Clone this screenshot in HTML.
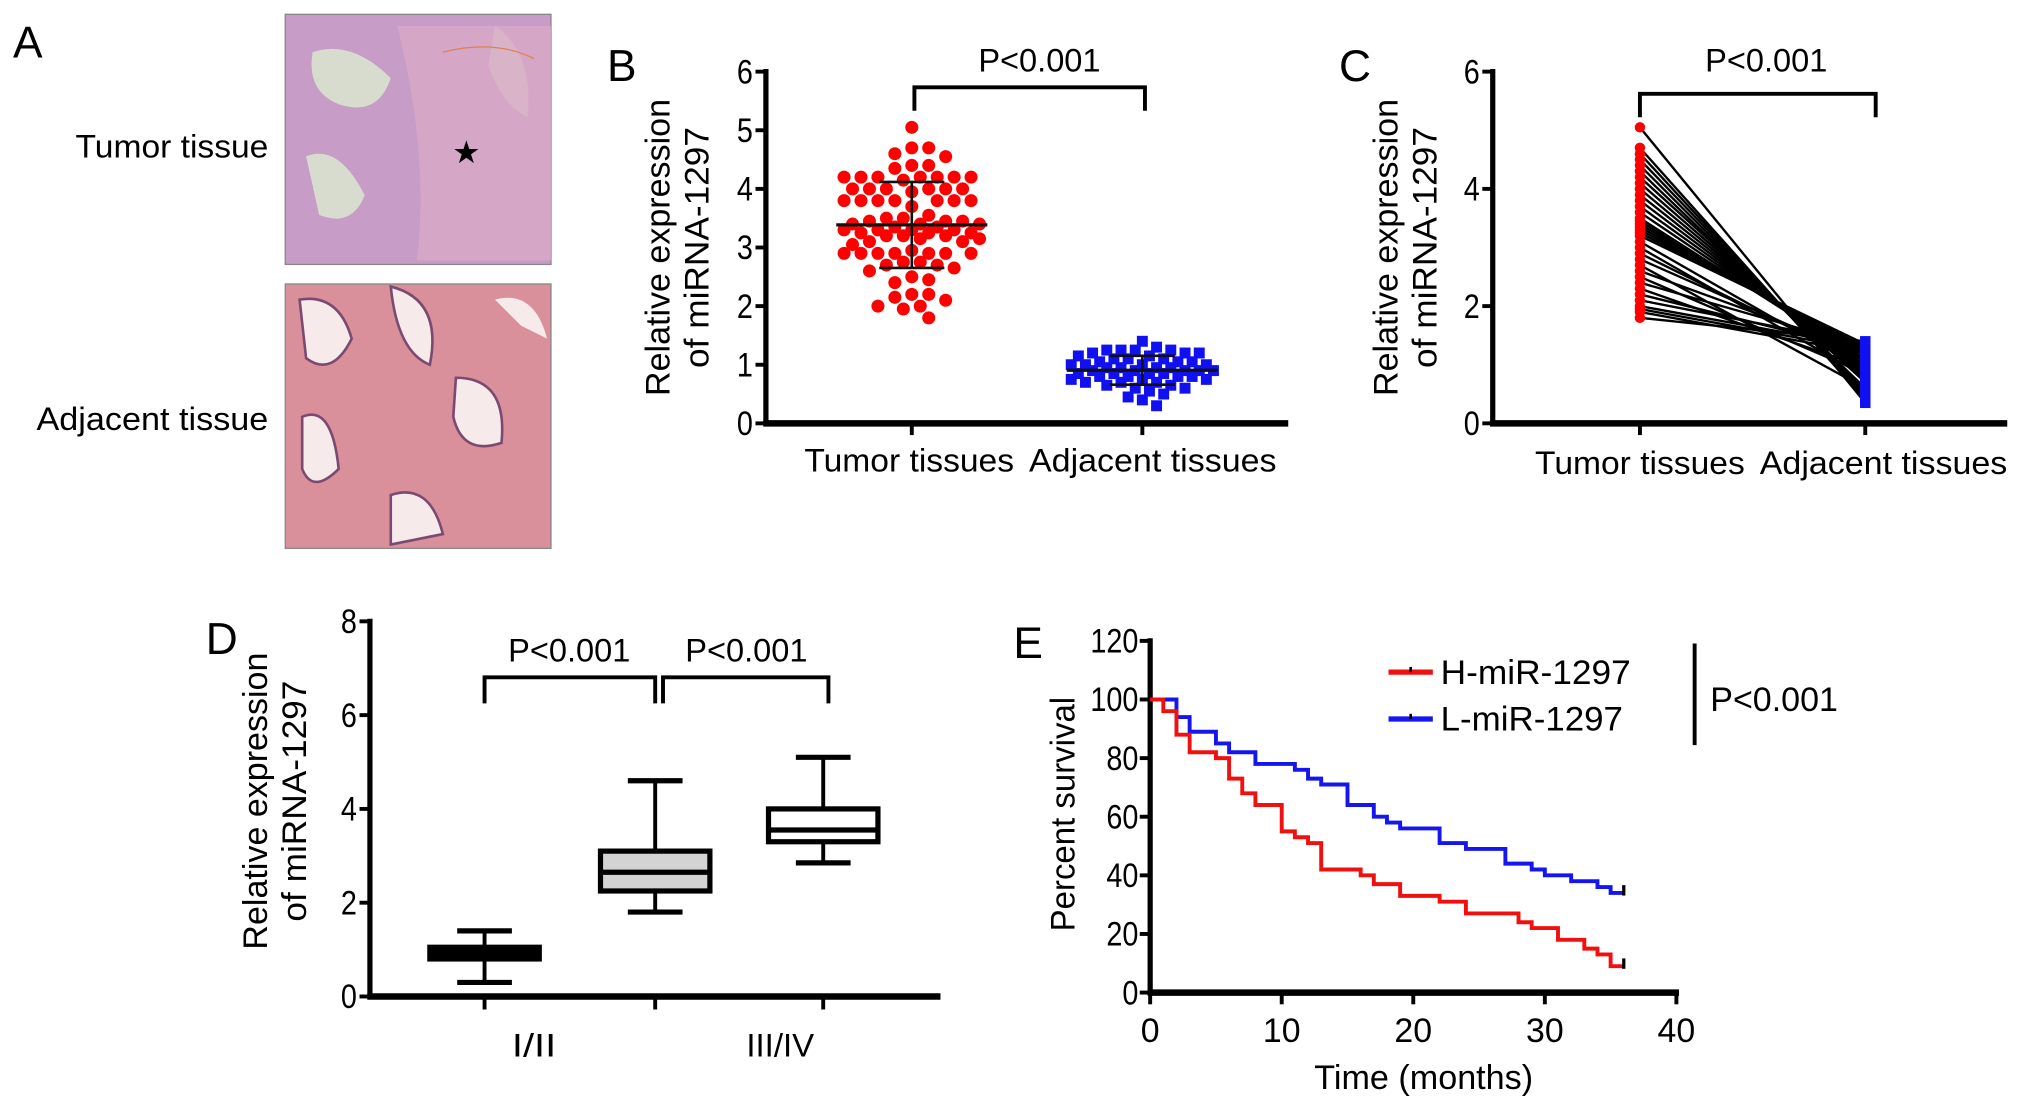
<!DOCTYPE html>
<html><head><meta charset="utf-8"><style>
html,body{margin:0;padding:0;background:#fff;}
svg{display:block;font-family:"Liberation Sans",Arial,sans-serif;}
</style></head><body>
<svg id="fig" width="2032" height="1102" viewBox="0 0 1560 846" preserveAspectRatio="none" xmlns="http://www.w3.org/2000/svg">
<rect width="1560" height="846" fill="#fff"/>
<g>
<text x="10" y="44" font-size="34">A</text>
<text x="206" y="121" font-size="25" text-anchor="end" textLength="148" lengthAdjust="spacingAndGlyphs">Tumor tissue</text>
<text x="206" y="330" font-size="25" text-anchor="end" textLength="178" lengthAdjust="spacingAndGlyphs">Adjacent tissue</text>
<g>
<rect x="219" y="11" width="204" height="192" fill="#c79cc7" stroke="#888"/>
<path d="M240 40 Q270 30 300 60 Q290 90 260 80 Q235 70 240 40Z" fill="#d8dccf"/>
<path d="M380 20 Q410 40 405 90 Q385 80 375 50Z" fill="#d8dccf"/>
<path d="M235 120 Q260 110 280 150 Q270 175 245 165Z" fill="#d8dccf"/>
<path d="M305 20 Q330 120 320 200 L423 200 L423 20Z" fill="#d9a9c6" opacity="0.8"/>
<path d="M340 40 Q380 30 410 45" stroke="#e08050" fill="none" stroke-width="1"/>
<text x="358" y="125" font-size="24" text-anchor="middle">★</text>
</g>
<g>
<rect x="219" y="218" width="204" height="203" fill="#d9909a" stroke="#888"/>
<path d="M230 230 Q260 225 270 260 Q255 290 235 275Z" fill="#f6eaea" stroke="#7a4a70" stroke-width="2"/>
<path d="M300 220 Q340 230 330 280 Q305 270 300 220Z" fill="#f6eaea" stroke="#7a4a70" stroke-width="2"/>
<path d="M350 290 Q390 290 385 340 Q355 350 348 320Z" fill="#f6eaea" stroke="#7a4a70" stroke-width="2"/>
<path d="M232 320 Q255 310 260 360 Q240 380 232 360Z" fill="#f6eaea" stroke="#7a4a70" stroke-width="2"/>
<path d="M380 230 Q410 222 420 260 L400 250Z" fill="#f6eaea"/>
<path d="M300 380 Q330 370 340 410 L300 418Z" fill="#f6eaea" stroke="#7a4a70" stroke-width="2"/>
</g>
</g>
<g id="pB"></g>
<g id="pC"></g>
<g id="pD"></g>
<g id="pE"></g>
</svg>
<script>
// ---- Panel B data ----
const bCategories = ["Tumor tissues","Adjacent tissues"];
const bTicks = [0,1,2,3,4,5,6];
const tumorB = [5.05,4.7,4.7,4.6,4.55,4.4,4.4,4.35,4.2,4.2,4.2,4.2,4.2,4.2,4.2,4.15,4.0,4.0,4.0,4.0,4.0,4.0,3.95,3.8,3.8,3.8,3.8,3.8,3.8,3.8,3.7,3.55,3.5,3.5,3.45,3.45,3.45,3.4,3.4,3.4,3.35,3.35,3.3,3.3,3.3,3.3,3.25,3.25,3.25,3.2,3.2,3.2,3.15,3.15,3.1,3.1,3.05,2.95,2.9,2.9,2.9,2.9,2.9,2.9,2.9,2.75,2.75,2.7,2.7,2.65,2.6,2.5,2.45,2.4,2.2,2.2,2.15,2.1,2.0,2.0,1.95,1.8];
const adjB = [1.4,1.3,1.25,1.25,1.25,1.25,1.2,1.2,1.2,1.15,1.15,1.1,1.1,1.1,1.05,1.05,1.05,1.0,1.0,1.0,1.0,0.95,0.95,0.95,0.95,0.9,0.9,0.9,0.9,0.9,0.85,0.85,0.85,0.85,0.8,0.8,0.8,0.8,0.75,0.75,0.75,0.7,0.7,0.7,0.65,0.65,0.6,0.6,0.55,0.5,0.45,0.4,0.3];
// ---- Panel C data ----
const cCategories = ["Tumor tissues","Adjacent tissues"];
const cTicks = [0,2,4,6];
const tumorC = [5.05,4.7,4.6,4.5,4.4,4.3,4.2,4.1,4.0,3.9,3.8,3.7,3.6,3.5,3.45,3.4,3.35,3.3,3.25,3.2,3.1,3.0,2.9,2.8,2.7,2.6,2.5,2.4,2.3,2.2,2.1,2.0,1.95,1.9,1.8];
const adjC = [0.35,0.4,0.45,0.5,0.55,0.6,0.7,0.75,0.8,0.85,0.9,0.95,1.0,1.05,1.1,1.15,1.2,1.25,1.3,1.35,0.9,0.8,1.0,1.1,0.6,1.2,0.85,1.3,0.95,1.25,1.35,1.3,1.25,1.2,1.4];
// ---- Panel D data ----
const dCategories = ["I/II","","III/IV"];
const dTicks = [0,2,4,6,8];
const dMin = [0.3,1.8,2.85];
const dQ1 = [0.8,2.25,3.3];
const dMed = [0.92,2.65,3.55];
const dQ3 = [1.05,3.1,4.0];
const dMax = [1.4,4.6,5.1];
const dFill = ["#000","#d3d3d3","#fff"];
// ---- Panel E data ----
const eTicksX = [0,10,20,30,40];
const eTicksY = [0,20,40,60,80,100,120];
const redT = [0,1,2,3,5,6,7,8,10,11,12,13,16,17,19,22,24,28,29,31,33,34,35,36];
const redS = [100,96,88,82,80,73,68,64,55,53,51,42,40,37,33,31,27,24,22,18,15,13,9,9];
const blueT = [0,2,3,5,6,8,11,12,13,15,17,18,19,22,24,27,29,30,32,34,35,36];
const blueS = [100,94,89,85,82,78,76,73,71,64,60,58,56,51,49,44,42,40,38,36,34,34];

const NS="http://www.w3.org/2000/svg";
function mk(parent,tag,attrs,txt){const e=document.createElementNS(NS,tag);for(const k in attrs)e.setAttribute(k,attrs[k]);if(txt!==undefined)e.textContent=txt;parent.appendChild(e);return e;}
function line(p,x1,y1,x2,y2,w,c){return mk(p,'line',{x1,y1,x2,y2,stroke:c||'#000','stroke-width':w||3});}
function ytitle(g,cx,cy,lines,name){lines.forEach((s,i)=>{
 const t=mk(g,'text',{transform:`translate(${cx+i*30},${cy}) rotate(-90)`,'font-size':26,'text-anchor':'middle',textLength:(i?185:228),lengthAdjust:'spacingAndGlyphs'},s);
 });}
function ytick(g,x,y,s,name){const tt=mk(g,'text',{x:x,y:y+9,'font-size':26,'text-anchor':'end',transform:`translate(${x*0.15},0) scale(0.85,1)`},s);
 tt.setAttribute('x',x/0.85-x*0.15/0.85);
 return tt;}

// ================= Panel B =================
(function(){
const g=document.getElementById('pB');
const X0=588,Y0=325,PU=45,XEND=989;
const y=v=>Y0-v*PU;
const xc=[700,877];
let t=mk(g,'text',{x:466,y:62,'font-size':34},'B');

line(g,X0,y(6)-2,X0,Y0+2,4);
line(g,X0-2,Y0,XEND,Y0,5);
bTicks.forEach(v=>{line(g,X0-8,y(v),X0,y(v),3);ytick(g,X0-10,y(v),String(v),'y-tick-label-b');});
bCategories.forEach((c,i)=>{line(g,xc[i],Y0,xc[i],Y0+9,3);
 const tt=mk(g,'text',{x:xc[i]+(i?8:-2),y:362,'font-size':25,'text-anchor':'middle',textLength:(i?190:161),lengthAdjust:'spacingAndGlyphs'},c);
 });
ytitle(g,514,190,['Relative expression','of miRNA-1297'],'y-axis-title-b');
const br=mk(g,'path',{d:`M${xc[0]+2} 85 V67 H${xc[1]+2} V85`,fill:'none',stroke:'#000','stroke-width':3});

const pt=mk(g,'text',{x:798,y:55,'font-size':25,'text-anchor':'middle'},'P<0.001');

function swarm(vals,cx,r,maxw){const placed=[];
 vals.forEach(v=>{const py=y(v);let best=null,bestOv=1e9;
  for(let k=0;k<60;k++){const off=(k%2?1:-1)*Math.ceil(k/2)*r*1.3;if(Math.abs(off)>maxw)break;const px=cx+off;
   const ov=placed.reduce((s,p)=>{const d=Math.hypot(p[0]-px,p[1]-py);return s+(d<r*1.9?(r*1.9-d):0);},0);
   if(ov===0){best=px;break;} if(ov<bestOv){bestOv=ov;best=px;}}
  placed.push([best,py]);});return placed;}
const mean=a=>a.reduce((s,v)=>s+v,0)/a.length;
const sd=a=>{const m=mean(a);return Math.sqrt(a.reduce((s,v)=>s+(v-m)*(v-m),0)/(a.length-1));};
swarm(tumorB,xc[0],5,55).forEach(p=>{const c=mk(g,'circle',{cx:p[0],cy:p[1],r:5,fill:'#f00'});
 });
swarm(adjB,xc[1],4.2,55).forEach(p=>{const c=mk(g,'rect',{x:p[0]-4.2,y:p[1]-4.2,width:8.4,height:8.4,fill:'#1010f0'});
 });
[[tumorB,xc[0]],[adjB,xc[1]]].forEach(([a,cx])=>{const m=mean(a),s=sd(a);
 const ml=line(g,cx-58,y(m),cx+58,y(m),2.5,'#111');
 line(g,cx,y(m-s),cx,y(m+s),2,'#111');line(g,cx-25,y(m-s),cx+25,y(m-s),2,'#111');line(g,cx-25,y(m+s),cx+25,y(m+s),2,'#111');});
})();

// ================= Panel C =================
(function(){
const g=document.getElementById('pC');
const X0=1146,Y0=325,XEND=1541;const PU=(325-55)/6;
const y=v=>Y0-v*PU;const xc=[1259,1432];
let t=mk(g,'text',{x:1028,y:62,'font-size':34},'C');
line(g,X0,y(6)-2,X0,Y0+2,4);line(g,X0-2,Y0,XEND,Y0,5);
cTicks.forEach(v=>{line(g,X0-8,y(v),X0,y(v),3);ytick(g,X0-10,y(v),String(v),'y-tick-label-c');});
cCategories.forEach((c,i)=>{line(g,xc[i],Y0,xc[i],Y0+9,3);
 const tt=mk(g,'text',{x:xc[i]+(i?14:0),y:364,'font-size':25,'text-anchor':'middle',textLength:(i?190:161),lengthAdjust:'spacingAndGlyphs'},c);
 });
ytitle(g,1073,190,['Relative expression','of miRNA-1297'],'y-axis-title-c');
const br=mk(g,'path',{d:`M${xc[0]} 90 V72 H${xc[1]+8} V90`,fill:'none',stroke:'#000','stroke-width':3});

const pt=mk(g,'text',{x:1356,y:55,'font-size':25,'text-anchor':'middle'},'P<0.001');

tumorC.forEach((v,i)=>{const l=line(g,xc[0],y(v),xc[1],y(adjC[i]),1.8,'#000');
 });
tumorC.forEach(v=>{const c=mk(g,'circle',{cx:xc[0],cy:y(v),r:4,fill:'#f00'});
 });
adjC.forEach(v=>{const c=mk(g,'rect',{x:xc[1]-4,y:y(v)-4,width:8,height:8,fill:'#1010f0'});
 });
})();

// ================= Panel D =================
(function(){
const g=document.getElementById('pD');
const X0=284,Y0=765,XEND=722;const PU=(765-477)/8;
const y=v=>Y0-v*PU;const xc=[372,503,632];const bw=84,cw=42;
let t=mk(g,'text',{x:158,y:502,'font-size':34},'D');
line(g,X0,y(8)-2,X0,Y0+2,4);line(g,X0-2,Y0,XEND,Y0,5);
dTicks.forEach(v=>{line(g,X0-8,y(v),X0,y(v),3);ytick(g,X0-10,y(v),String(v),'y-tick-label-d');});
xc.forEach(x=>line(g,x,Y0,x,Y0+10,3));
const l1=mk(g,'text',{x:410,y:811,'font-size':25,'text-anchor':'middle',textLength:34,lengthAdjust:'spacingAndGlyphs'},dCategories[0]);
const l2=mk(g,'text',{x:599,y:811,'font-size':25,'text-anchor':'middle',textLength:52,lengthAdjust:'spacingAndGlyphs'},dCategories[2]);
ytitle(g,205,615,['Relative expression','of miRNA-1297'],'y-axis-title-d');
xc.forEach((x,i)=>{const bx=mk(g,'g',{});
 line(bx,x,y(dMin[i]),x,y(dMax[i]),3);
 line(bx,x-cw/2,y(dMin[i]),x+cw/2,y(dMin[i]),4);line(bx,x-cw/2,y(dMax[i]),x+cw/2,y(dMax[i]),4);
 mk(bx,'rect',{x:x-bw/2,y:y(dQ3[i]),width:bw,height:y(dQ1[i])-y(dQ3[i]),fill:dFill[i],stroke:'#000','stroke-width':4});
 line(bx,x-bw/2,y(dMed[i]),x+bw/2,y(dMed[i]),4);});
const b1=mk(g,'path',{d:`M${xc[0]} 540 V520 H${xc[1]} V540`,fill:'none',stroke:'#000','stroke-width':3});

const b2=mk(g,'path',{d:`M${xc[1]+6} 540 V520 H${xc[2]+4} V540`,fill:'none',stroke:'#000','stroke-width':3});

const p1=mk(g,'text',{x:437,y:508,'font-size':25,'text-anchor':'middle'},'P<0.001');
const p2=mk(g,'text',{x:573,y:508,'font-size':25,'text-anchor':'middle'},'P<0.001');
})();

// ================= Panel E =================
(function(){
const g=document.getElementById('pE');
const X0=883,Y0=762,XU=10.1,YU=(762-492)/120;
const x=t=>X0+t*XU,y=s=>Y0-s*YU;
let t=mk(g,'text',{x:778,y:505,'font-size':34},'E');
line(g,X0,y(120)-2,X0,Y0+2,4);line(g,X0-2,Y0,x(40)+2,Y0,5);
eTicksY.forEach(v=>{line(g,X0-8,y(v),X0,y(v),3);ytick(g,X0-9,y(v),String(v),'y-tick-label-e');});
eTicksX.forEach(v=>{line(g,x(v),Y0,x(v),Y0+9,3);
 const tt=mk(g,'text',{x:x(v),y:800,'font-size':26,'text-anchor':'middle'},String(v));
 });
const xt=mk(g,'text',{x:1093,y:836,'font-size':26,'text-anchor':'middle',textLength:168,lengthAdjust:'spacingAndGlyphs'},'Time (months)');
const yt=mk(g,'text',{transform:'translate(825,625) rotate(-90)','font-size':26,'text-anchor':'middle',textLength:180,lengthAdjust:'spacingAndGlyphs'},'Percent survival');
function step(T,S,col,name){let d=`M${x(T[0])} ${y(S[0])}`;
 for(let i=1;i<T.length;i++){d+=` H${x(T[i])} V${y(S[i])}`;}
 const p=mk(g,'path',{d,fill:'none',stroke:col,'stroke-width':3});
 
 const n=T.length-1;line(g,x(T[n]),y(S[n])-6,x(T[n]),y(S[n])+2,2.5,'#000');}
step(blueT,blueS,'#1515f0','survival-curve-low');
step(redT,redS,'#f01010','survival-curve-high');
const lg=mk(g,'g',{});
line(lg,1066,516,1100,516,4,'#f01010');line(lg,1083,512,1083,516,2,'#000');
const lt1=mk(lg,'text',{x:1106,y:525,'font-size':26,textLength:146,lengthAdjust:'spacingAndGlyphs'},'H-miR-1297');
line(lg,1066,552,1100,552,4,'#1515f0');line(lg,1083,548,1083,552,2,'#000');
const lt2=mk(lg,'text',{x:1106,y:561,'font-size':26,textLength:140,lengthAdjust:'spacingAndGlyphs'},'L-miR-1297');
line(g,1301,494,1301,572,3);
const pt=mk(g,'text',{x:1313,y:546,'font-size':26,textLength:98,lengthAdjust:'spacingAndGlyphs'},'P<0.001');
})();
</script>
</body></html>
